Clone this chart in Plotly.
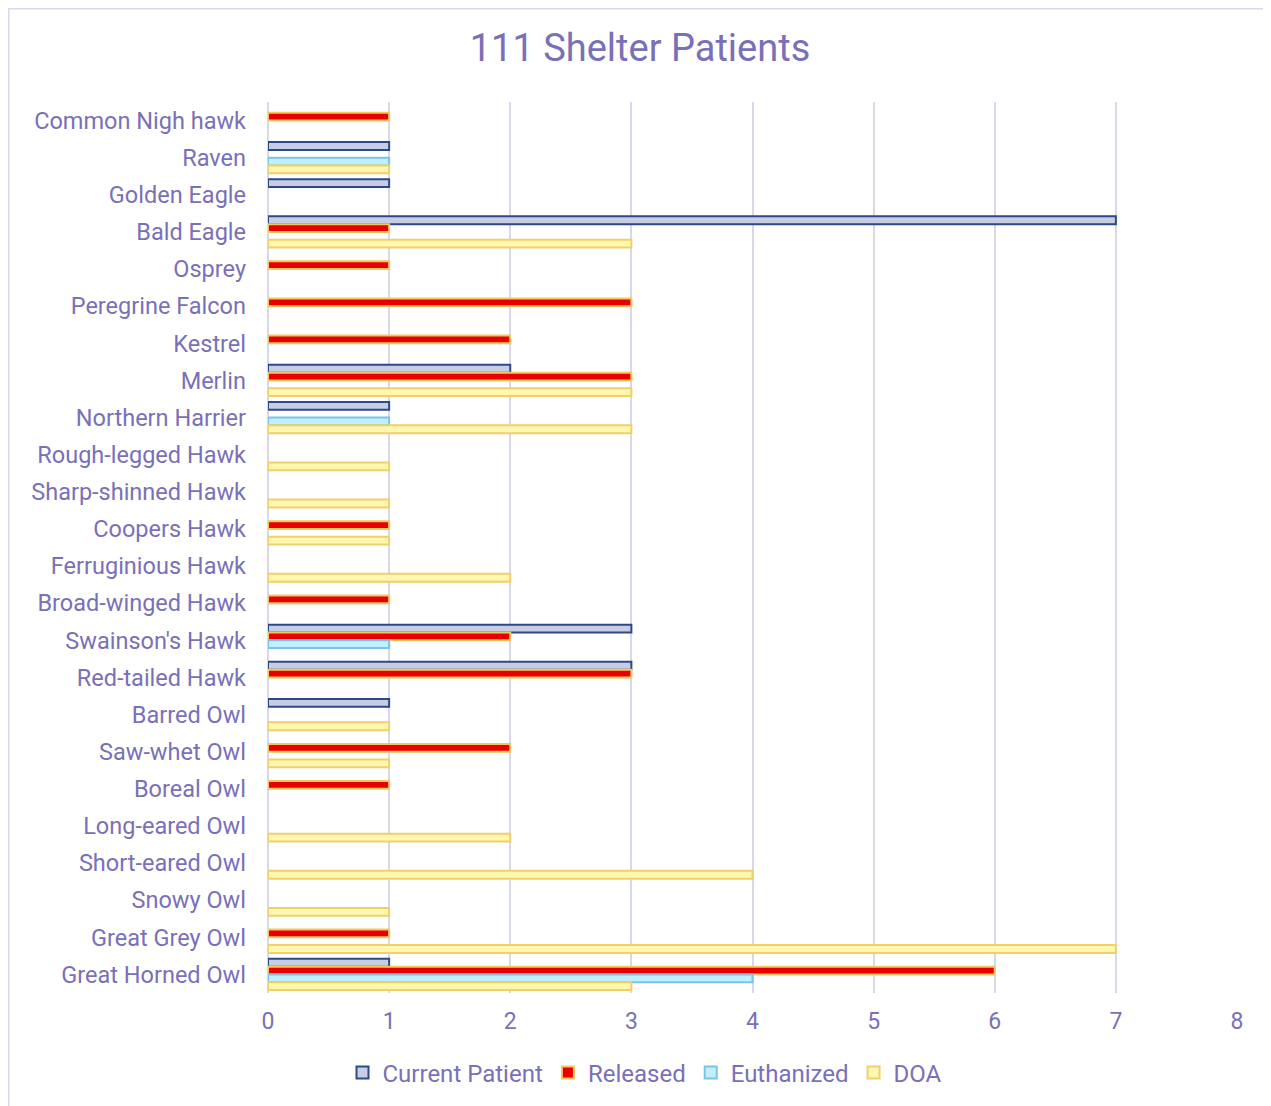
import plotly.graph_objects as go

species = [
    "Common Nigh hawk", "Raven", "Golden Eagle", "Bald Eagle", "Osprey",
    "Peregrine Falcon", "Kestrel", "Merlin", "Northern Harrier",
    "Rough-legged Hawk", "Sharp-shinned Hawk", "Coopers Hawk",
    "Ferruginious Hawk", "Broad-winged Hawk", "Swainson's Hawk",
    "Red-tailed Hawk", "Barred Owl", "Saw-whet Owl", "Boreal Owl",
    "Long-eared Owl", "Short-eared Owl", "Snowy Owl", "Great Grey Owl",
    "Great Horned Owl",
]
current_patient = [None, 1, 1, 7, None, None, None, 2, 1, None, None, None,
                   None, None, 3, 3, 1, None, None, None, None, None, None, 1]
released = [1, None, None, 1, 1, 3, 2, 3, None, None, None, 1,
            None, 1, 2, 3, None, 2, 1, None, None, None, 1, 6]
euthanized = [None, 1, None, None, None, None, None, None, 1, None, None, None,
              None, None, 1, None, None, None, None, None, None, None, None, 4]
doa = [None, 1, None, 3, None, None, None, 3, 3, 1, 1, 1,
       2, None, None, None, 1, 1, None, 2, 4, 1, 7, 3]

TEXT = "#7a70b8"
GRID = "#d9d7ea"
FONT = "Roboto, sans-serif"

series = [
    ("Current Patient", current_patient, "#c8cde6", "#2e4a86", 2),
    ("Released", released, "#e80000", "#f2c75c", 2),
    ("Euthanized", euthanized, "#c0efff", "#7cc3ea", 2),
    ("DOA", doa, "#fff6b0", "#f0d06a", 2),
]

fig = go.Figure()
for name, vals, fill, edge, lw in series:
    fig.add_trace(go.Bar(
        name=name, y=species, x=vals, orientation="h",
        marker=dict(color=fill, line=dict(color=edge, width=lw)),
    ))

# page is drawn 8px in from the window edge, so shift everything back
OFF = 8
W, H = 1271, 1106
ml, mr = 268 - OFF, W - (1237 - OFF)
mt, mb = 102 - OFF, H - (993 - OFF)
pw = W - ml - mr
ph = H - mt - mb


def px_x(p):
    return (p - OFF - ml) / pw


def px_y(p):
    return 1 - (p - OFF - mt) / ph


fig.update_layout(
    width=W, height=H,
    barmode="group", bargap=0.16, bargroupgap=0,
    title=dict(text="111 Shelter Patients", x=(640 - OFF) / W, xanchor="center",
               y=1 - (48 - OFF) / H, yanchor="middle",
               font=dict(size=38, color=TEXT, family=FONT)),
    font=dict(family=FONT, size=23, color=TEXT),
    margin=dict(l=ml, r=mr, t=mt, b=mb),
    plot_bgcolor="white", paper_bgcolor="white",
    showlegend=True,
    legend=dict(orientation="h", x=px_x(645), xanchor="center",
                y=px_y(1073), yanchor="middle",
                font=dict(size=24, color=TEXT), traceorder="normal",
                itemwidth=30, tracegroupgap=0),
    xaxis=dict(range=[0, 8], dtick=1, showgrid=True, gridcolor=GRID,
               gridwidth=2, zeroline=True, zerolinecolor=GRID, zerolinewidth=2,
               showline=False, ticks="", ticklabelstandoff=12,
               tickfont=dict(size=23, color=TEXT)),
    yaxis=dict(autorange="reversed", showgrid=False, ticks="",
               ticklabelstandoff=21, tickfont=dict(size=23.5, color=TEXT)),
    shapes=[dict(type="rect", xref="paper", yref="paper",
                 x0=px_x(8.8), x1=px_x(1290), y0=px_y(8.8), y1=px_y(1130),
                 line=dict(color=GRID, width=1.5), layer="below")],
)

fig.write_html("out.html")
